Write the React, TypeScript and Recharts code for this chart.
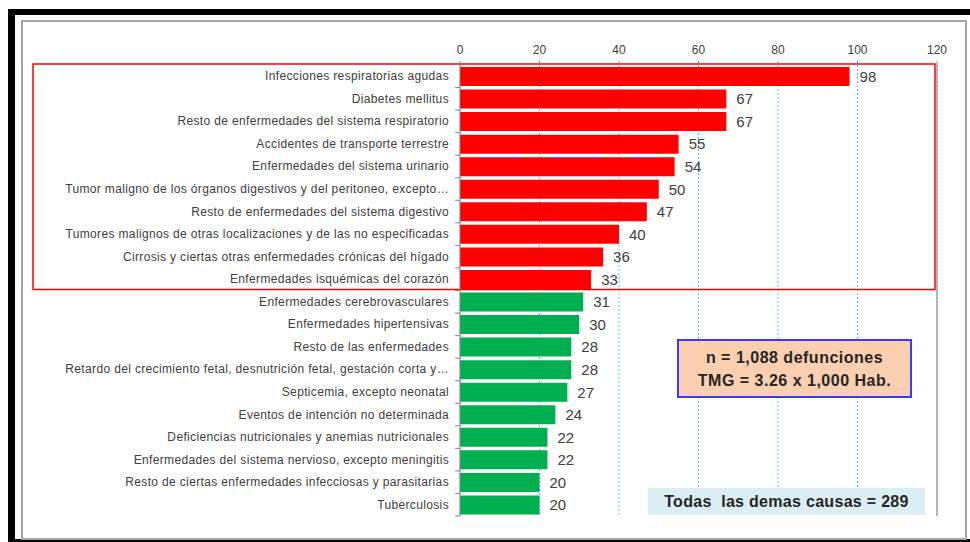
import { BarChart, Bar, XAxis, YAxis, CartesianGrid, Cell, LabelList, ReferenceArea, ReferenceLine } from "recharts";

const causes = [
  "Infecciones respiratorias agudas",
  "Diabetes mellitus",
  "Resto de enfermedades del sistema respiratorio",
  "Accidentes de transporte terrestre",
  "Enfermedades del sistema urinario",
  "Tumor maligno de los órganos digestivos y del peritoneo, excepto…",
  "Resto de enfermedades del sistema digestivo",
  "Tumores malignos de otras localizaciones y de las no especificadas",
  "Cirrosis y ciertas otras enfermedades crónicas del hígado",
  "Enfermedades isquémicas del corazón",
  "Enfermedades cerebrovasculares",
  "Enfermedades hipertensivas",
  "Resto de las enfermedades",
  "Retardo del crecimiento fetal, desnutrición fetal, gestación corta y…",
  "Septicemia, excepto neonatal",
  "Eventos de intención no determinada",
  "Deficiencias nutricionales y anemias nutricionales",
  "Enfermedades del sistema nervioso, excepto meningitis",
  "Resto de ciertas enfermedades infecciosas y parasitarias",
  "Tuberculosis",
];
const deaths = [98, 67, 67, 55, 54, 50, 47, 40, 36, 33, 31, 30, 28, 28, 27, 24, 22, 22, 20, 20];
const xTicks = [0, 20, 40, 60, 80, 100, 120];
const topCount = 10; // first ten causes are highlighted

const data = causes.map((name, i) => ({ name, value: deaths[i] }));

const font = "'Liberation Sans', Arial, sans-serif";

function CauseTick(props: any) {
  const { x, y, payload } = props;
  const half = payload?.offset ?? 11;
  return (
    <g>
      <line x1={x + 6} x2={x + 11} y1={y + half} y2={y + half} stroke="#868686" />
      <text x={x} y={y} dy={4} textAnchor="end" fontSize={12} letterSpacing={0.35} fill="#404040" fontFamily={font}>
        {payload.value}
      </text>
    </g>
  );
}

function HighlightBox(props: any) {
  const { x, y, width, height } = props;
  return <rect x={x - 427} y={y - 1} width={width + 425} height={height} fill="none" stroke="#ff0000" strokeWidth={1.5} />;
}

export default function App() {
  return (
    <div style={{ position: "absolute", left: 0, top: 0, width: 970, height: 542, background: "#fff", overflow: "hidden", fontFamily: font }}>
      <div style={{ position: "absolute", left: 8, top: 9, width: 1000, height: 524, borderTop: "6px solid #000", borderLeft: "7px solid #000", borderBottom: "4px solid #000" }} />
      <div style={{ position: "absolute", left: 21, top: 20, width: 942, height: 516, border: "2px solid #a6a6a6" }} />

      <div style={{ position: "absolute", left: 0, top: 0 }}>
        <BarChart width={970} height={542} data={data} layout="vertical" margin={{ top: 35, right: 33, bottom: 26, left: 0 }}>
          <CartesianGrid xAxisId="top" horizontal={false} stroke="#4fc0f0" strokeDasharray="2 2" />
          <XAxis
            xAxisId="top"
            orientation="top"
            type="number"
            domain={[0, 120]}
            ticks={xTicks}
            height={30}
            axisLine={false}
            tickSize={4}
            tickMargin={7}
            tickLine={{ stroke: "#868686" }}
            tick={{ fontSize: 12, fill: "#404040", fontFamily: font }}
          />
          <XAxis xAxisId="bottom" orientation="bottom" type="number" domain={[0, 120]} height={0} tick={false} tickLine={false} axisLine={{ stroke: "#a6a6a6", strokeWidth: 1.5 }} />
          <YAxis
            type="category"
            dataKey="name"
            width={460}
            interval={0}
            tickSize={5}
            tickMargin={6}
            tickLine={false}
            axisLine={{ stroke: "#868686" }}
            tick={<CauseTick />}
          />
          <ReferenceLine xAxisId="top" x={120} stroke="#a6a6a6" strokeWidth={1.5} />
          <Bar xAxisId="top" dataKey="value" barSize={19} isAnimationActive={false}>
            {data.map((d, i) => (
              <Cell key={d.name} fill={i < topCount ? "#ff0000" : "#00b050"} />
            ))}
            <LabelList dataKey="value" position="right" offset={10} fill="#404040" fontSize={15} fontFamily={font} />
          </Bar>
          <ReferenceArea
            xAxisId="top"
            x1={0}
            x2={120}
            y1={causes[0]}
            y2={causes[topCount - 1]}
            ifOverflow="visible"
            shape={<HighlightBox />}
          />
        </BarChart>
      </div>

      <div style={{ position: "absolute", left: 677, top: 339, width: 231, height: 55, background: "#fbcfb0", border: "2px solid #3a3aff", display: "flex", flexDirection: "column", justifyContent: "center", alignItems: "center", fontWeight: 700, fontSize: 16, letterSpacing: 0.5, color: "#262626", lineHeight: "23px" }}>
        <div>n = 1,088 defunciones</div>
        <div>TMG = 3.26 x 1,000 Hab.</div>
      </div>
      <div style={{ position: "absolute", left: 648, top: 488, width: 277, height: 27, background: "#daeef3", display: "flex", alignItems: "center", justifyContent: "center", fontWeight: 700, fontSize: 16, letterSpacing: 0.3, color: "#262626", whiteSpace: "pre" }}>
        {"Todas  las demas causas = 289"}
      </div>
    </div>
  );
}
